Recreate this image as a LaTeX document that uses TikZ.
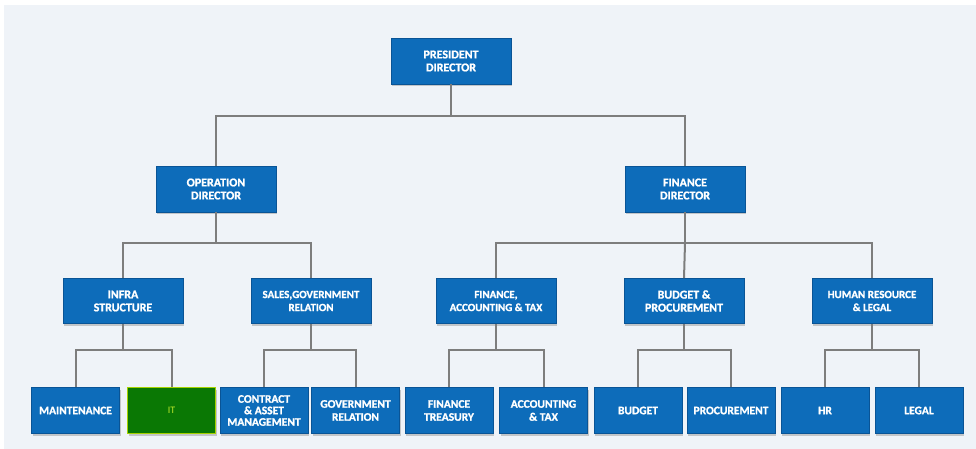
\documentclass[tikz,border=0pt]{standalone}
\usepackage{fontspec}
\setmainfont{Carlito}
\newfontfamily\boxfont{Carlito}[UprightFont={* Bold}, FakeBold=1.2]
\usetikzlibrary{shadows}

\definecolor{boxblue}{RGB}{13,108,186}
\definecolor{boxedge}{RGB}{9,84,150}
\definecolor{itgreen}{RGB}{10,120,4}
\definecolor{itedge}{RGB}{166,210,0}
\definecolor{ittext}{RGB}{184,230,42}
\definecolor{linkgray}{RGB}{125,125,125}
\definecolor{pagebg}{RGB}{239,243,248}

\begin{document}
\begin{tikzpicture}[%
      x=1pt, y=-1pt,
      box/.style={draw=boxedge, line width=0.8pt, fill=boxblue, text=white,
        font=\fontsize{12}{13}\boxfont, align=center,
        inner sep=0pt, minimum height=46pt,
        drop shadow={shadow xshift=1pt, shadow yshift=-2pt, opacity=0.4}},
      bigbox/.style={box, minimum width=120pt},
      smallbox/.style={box, minimum width=88pt,
        font=\fontsize{11.5}{13}\boxfont},
      itbox/.style={smallbox, fill=itgreen, draw=itedge, text=ittext,
        font=\fontsize{10}{12}\selectfont},
      link/.style={draw=linkgray, line width=2pt},
      ]
      \useasboundingbox (0,0) rectangle (976,449);
      \fill [white] (0,0) rectangle (976,449);
      \fill [pagebg] (4,5) rectangle (976,449);

      % top
      \node [bigbox] (pres) at (451,61) {PRESIDENT\\DIRECTOR};

      % directors
      \node [bigbox] (op)  at (216,189) {OPERATION\\DIRECTOR};
      \node [bigbox] (fin) at (685,189) {FINANCE\\DIRECTOR};

      % departments
      \node [bigbox, minimum height=45pt] (infra) at (123,301) {INFRA\\STRUCTURE};
      \node [bigbox, minimum height=45pt, font=\fontsize{11}{13}\boxfont]
                       (sales) at (311,301) {SALES,GOVERNMENT\\RELATION};
      \node [bigbox, minimum height=45pt, font=\fontsize{11}{13}\boxfont]
                       (fat)   at (496,301) {FINANCE,\\ACCOUNTING \& TAX};
      \node [bigbox, minimum height=45pt] (bp)    at (684,301) {BUDGET \&\\PROCUREMENT};
      \node [bigbox, minimum height=45pt, font=\fontsize{11}{13}\boxfont]
                       (hrl)   at (872,301) {HUMAN RESOURCE\\\& LEGAL};

      % units
      \node [smallbox] (maint)    at (75.5,410.5)  {MAINTENANCE};
      \node [itbox]    (it)       at (171.5,410.5) {IT};
      \node [smallbox, font=\fontsize{11.5}{11.5}\boxfont]
                       (contract) at (264,410.5)   {CONTRACT\\\& ASSET\\MANAGEMENT};
      \node [smallbox] (govrel)   at (355.5,410.5) {GOVERNMENT\\RELATION};
      \node [smallbox] (ftreas)   at (449,410.5)   {FINANCE\\TREASURY};
      \node [smallbox] (acctax)   at (543.5,410.5) {ACCOUNTING\\\& TAX};
      \node [smallbox] (budget)   at (638,410.5)   {BUDGET};
      \node [smallbox] (proc)     at (731,410.5)   {PROCUREMENT};
      \node [smallbox] (hr)       at (825,410.5)   {HR};
      \node [smallbox] (legal)    at (919,410.5)   {LEGAL};

      % bars
      \path (pres.south) ++(0,32) coordinate (presbar);
      \path (op.south) ++(0,31) coordinate (opbar);
      \path (fin.south) ++(0,31) coordinate (finbar);
      \path (infra.south) ++(0,26.5) coordinate (infrabar);
      \path (sales.south) ++(0,26.5) coordinate (salesbar);
      \path (fat.south) ++(0,26.5) coordinate (fatbar);
      \path (bp.south) ++(0,26.5) coordinate (bpbar);
      \path (hrl.south) ++(0,26.5) coordinate (hrlbar);

      \draw [link] (pres.south) -- (presbar);
      \draw [link] (op.north) |- (presbar) -| (fin.north);

      \draw [link] (op.south) -- (opbar);
      \draw [link] (infra.north) |- (opbar) -| (sales.north);
      \draw [link] (fin.south) -- (finbar);
      \draw [link] (fat.north) |- (finbar) -| (hrl.north);
      \draw [link] (bp.north) -- (finbar);

      \draw [link] (infra.south) -- (infrabar);
      \draw [link] (maint.north) |- (infrabar) -| (it.north);
      \draw [link] (sales.south) -- (salesbar);
      \draw [link] (contract.north) |- (salesbar) -| (govrel.north);
      \draw [link] (fat.south) -- (fatbar);
      \draw [link] (ftreas.north) |- (fatbar) -| (acctax.north);
      \draw [link] (bp.south) -- (bpbar);
      \draw [link] (budget.north) |- (bpbar) -| (proc.north);
      \draw [link] (hrl.south) -- (hrlbar);
      \draw [link] (hr.north) |- (hrlbar) -| (legal.north);
      \end{tikzpicture}
\end{document}
